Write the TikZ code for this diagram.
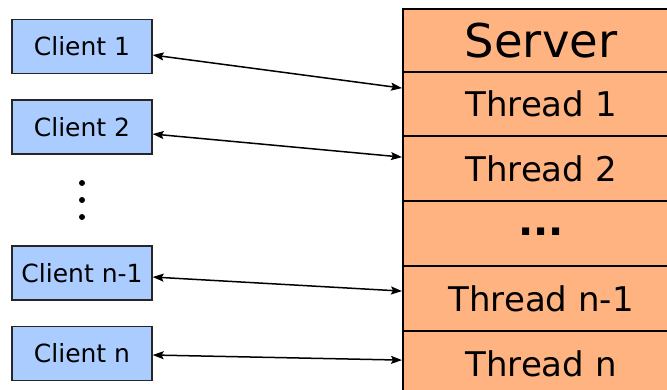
\documentclass[tikz,border=0pt]{standalone}
\usepackage{fontspec}
\setmainfont{DejaVu Sans}
\usetikzlibrary{arrows.meta}
\definecolor{clientblue}{HTML}{AACCFF}
\definecolor{serverorange}{HTML}{FFB380}
\tikzset{
  client/.style={draw=black!85, line width=1.3pt, fill=clientblue, minimum width=140pt, minimum height=54pt, inner sep=0pt, font=\fontsize{25}{30}\selectfont},
  row/.style={draw=black, line width=2.2pt, fill=serverorange, minimum width=276pt, inner sep=0pt, anchor=north west},
  link/.style={line width=1.5pt, {Stealth[length=11pt,width=8pt,inset=2pt]}-{Stealth[length=11pt,width=8pt,inset=2pt]}},
  vdot/.style={circle, fill=black, inner sep=0pt, minimum size=6pt}
}
\begin{document}
\begin{tikzpicture}[x=1pt,y=-1pt]
\useasboundingbox (0,0) rectangle (667,389);
\clip (0,0) rectangle (667,389);
% clients
\node[client] (c1) at (82,46.5) {Client 1};
\node[client] (c2) at (82,127) {Client 2};
\node[client] (cn1) at (82,273) {Client n-1};
\node[client] (cn) at (82,353.5) {Client n};
% vertical dots
\node[vdot] (d1) at (82,183) {};
\node[vdot] (d2) at (82,200) {};
\node[vdot] (d3) at (82,217) {};
% server column
\node[row, minimum height=63pt, font=\fontsize{46.5}{52}\selectfont] (srv) at (402,8) {Server};
\node[row, minimum height=64pt, font=\fontsize{34}{40}\selectfont] (t1) at (402,71) {Thread 1};
\node[row, minimum height=65pt, font=\fontsize{34}{40}\selectfont] (t2) at (402,135) {Thread 2};
\node[row, minimum height=65pt, font=\bfseries\fontsize{40}{46}\selectfont] (td) at (402,200) {\raisebox{3pt}{...}};
\node[row, minimum height=65pt, font=\fontsize{34}{40}\selectfont] (tn1) at (402,265) {Thread n-1};
\node[row, minimum height=65pt, font=\fontsize{34}{40}\selectfont] (tn) at (402,330) {Thread n};
% connectors
\draw[link] ([yshift=-8.5pt]c1.east) -- ([yshift=16pt]t1.west);
\draw[link] ([yshift=-7pt]c2.east) -- ([yshift=11.5pt]t2.west);
\draw[link] ([yshift=-4pt]cn1.east) -- ([yshift=7.5pt]tn1.west);
\draw[link] ([yshift=-1.5pt]cn.east) -- ([yshift=3.5pt]tn.west);
\end{tikzpicture}
\end{document}
